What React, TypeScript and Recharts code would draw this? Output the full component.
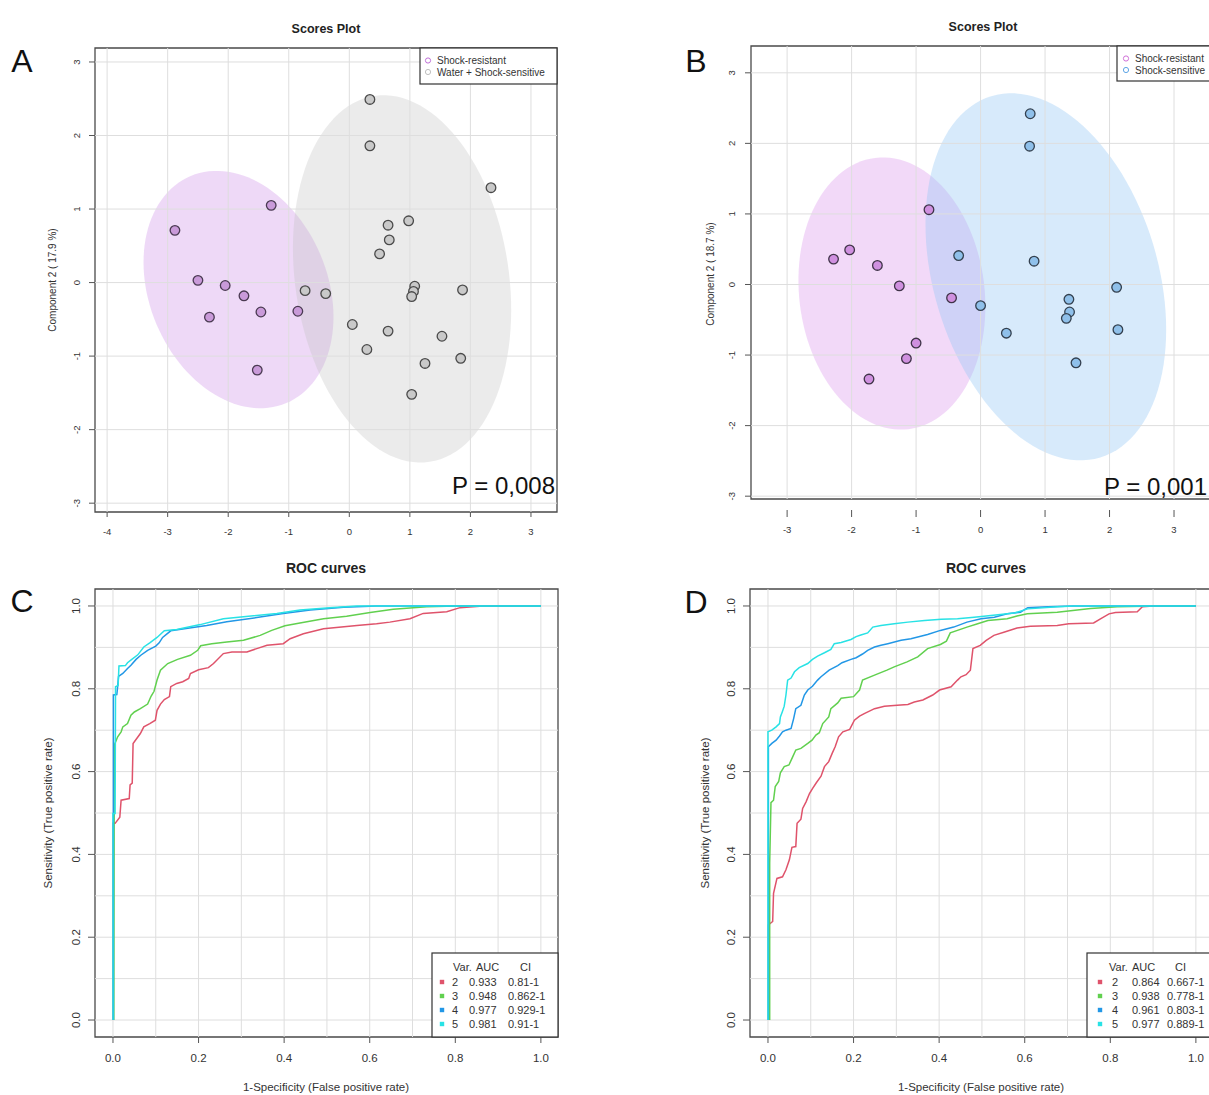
import React from 'react';
import {
  ScatterChart,
  Scatter,
  LineChart,
  Line,
  XAxis,
  YAxis,
  ReferenceArea,
  ReferenceLine,
} from 'recharts';

// ---------------- DATA ----------------
// Panel A – PLS-DA scores (Component 1, Component 2)
const scoresA_resistant: [number, number][] = [
  [-2.88, 0.71], [-1.29, 1.05], [-2.5, 0.03], [-2.05, -0.04], [-1.74, -0.18],
  [-2.31, -0.47], [-1.46, -0.4], [-0.85, -0.39], [-1.52, -1.19],
];
const scoresA_waterSensitive: [number, number][] = [
  [0.34, 2.49], [0.34, 1.86], [2.34, 1.29], [0.98, 0.84], [0.64, 0.78], [0.66, 0.58],
  [0.5, 0.39], [-0.73, -0.11], [-0.39, -0.15], [1.08, -0.05], [1.06, -0.12], [1.03, -0.19],
  [1.87, -0.1], [0.05, -0.57], [0.64, -0.66], [0.29, -0.91], [1.53, -0.73], [1.25, -1.1],
  [1.84, -1.03], [1.03, -1.52],
];
// Panel B
const scoresB_resistant: [number, number][] = [
  [-2.28, 0.36], [-2.03, 0.49], [-1.6, 0.27], [-1.26, -0.02], [-0.8, 1.06],
  [-0.45, -0.19], [-1.0, -0.83], [-1.15, -1.05], [-1.73, -1.34],
];
const scoresB_sensitive: [number, number][] = [
  [0.77, 2.42], [0.76, 1.96], [-0.34, 0.41], [0.83, 0.33], [2.11, -0.04], [0.0, -0.3],
  [1.37, -0.21], [1.38, -0.39], [1.33, -0.48], [2.13, -0.64], [0.4, -0.69], [1.48, -1.11],
];

// 95% confidence ellipses: centre + two conjugate semi-diameters (data units)
type Ell = { cx: number; cy: number; ux: number; uy: number; vx: number; vy: number };
const ellipseA_resistant: Ell = { cx: -1.83, cy: -0.095, ux: 0.79, uy: -1.544, vx: 1.355, vy: 0.471 };
const ellipseA_waterSensitive: Ell = { cx: 0.871, cy: 0.05, ux: 0.456, uy: -2.488, vx: 1.744, vy: 0.217 };
const ellipseB_resistant: Ell = { cx: -1.375, cy: -0.128, ux: 0.26, uy: -1.922, vx: 1.426, vy: 0.162 };
const ellipseB_sensitive: Ell = { cx: 1.012, cy: 0.109, ux: 0.845, uy: -2.56, vx: 1.664, vy: 0.461 };

const ticksA_x = [-4, -3, -2, -1, 0, 1, 2, 3];
const ticksA_y = [-3, -2, -1, 0, 1, 2, 3];
const ticksB_x = [-3, -2, -1, 0, 1, 2, 3];
const ticksB_y = [-3, -2, -1, 0, 1, 2, 3];

// ROC curves (false positive rate, true positive rate)
const rocC_var2: [number, number][] = [
  [0, 0], [0, 0.475], [0.005, 0.475], [0.016, 0.49], [0.019, 0.531], [0.038, 0.535], [0.04, 0.568],
  [0.045, 0.572], [0.047, 0.668], [0.064, 0.692], [0.072, 0.708], [0.086, 0.716], [0.099, 0.724],
  [0.103, 0.748], [0.111, 0.763], [0.12, 0.774], [0.132, 0.781], [0.135, 0.805], [0.149, 0.813],
  [0.163, 0.817], [0.177, 0.825], [0.181, 0.837], [0.2, 0.846], [0.223, 0.851], [0.235, 0.861],
  [0.258, 0.885], [0.278, 0.889], [0.313, 0.889], [0.336, 0.897], [0.36, 0.905], [0.398, 0.909],
  [0.414, 0.921], [0.445, 0.933], [0.492, 0.945], [0.57, 0.953], [0.616, 0.957], [0.647, 0.961],
  [0.694, 0.969], [0.725, 0.982], [0.78, 0.986], [0.811, 0.996], [0.865, 1.0], [1, 1],
];
const rocC_var3: [number, number][] = [
  [0.002, 0], [0.003, 0.664], [0.011, 0.684], [0.019, 0.696], [0.023, 0.708], [0.034, 0.716],
  [0.042, 0.736], [0.05, 0.744], [0.064, 0.752], [0.081, 0.763], [0.089, 0.782], [0.096, 0.794],
  [0.103, 0.821], [0.111, 0.845], [0.128, 0.861], [0.151, 0.871], [0.181, 0.881], [0.198, 0.893],
  [0.205, 0.904], [0.231, 0.909], [0.266, 0.913], [0.305, 0.917], [0.344, 0.929], [0.371, 0.941],
  [0.402, 0.952], [0.437, 0.959], [0.492, 0.969], [0.546, 0.975], [0.601, 0.984], [0.655, 0.992],
  [0.733, 0.998], [0.803, 1.0], [1, 1],
];
const rocC_var4: [number, number][] = [
  [0.001, 0], [0.001, 0.785], [0.009, 0.786], [0.011, 0.806], [0.013, 0.83], [0.023, 0.837],
  [0.034, 0.849], [0.042, 0.857], [0.054, 0.871], [0.065, 0.881], [0.081, 0.893], [0.1, 0.903],
  [0.108, 0.911], [0.116, 0.924], [0.135, 0.94], [0.167, 0.945], [0.219, 0.953], [0.266, 0.962],
  [0.336, 0.972], [0.398, 0.982], [0.461, 0.99], [0.539, 0.997], [0.616, 1.0], [1, 1],
];
const rocC_var5: [number, number][] = [
  [0, 0], [0, 0.499], [0.005, 0.499], [0.006, 0.805], [0.012, 0.808], [0.014, 0.855], [0.029, 0.856],
  [0.034, 0.863], [0.044, 0.871], [0.058, 0.882], [0.072, 0.901], [0.086, 0.911], [0.103, 0.924],
  [0.12, 0.94], [0.149, 0.943], [0.204, 0.955], [0.258, 0.969], [0.305, 0.974], [0.383, 0.982],
  [0.437, 0.99], [0.507, 0.996], [0.57, 1.0], [1, 1],
];
const rocD_var2: [number, number][] = [
  [0.001, 0], [0.001, 0.23], [0.011, 0.238], [0.013, 0.306], [0.021, 0.342], [0.034, 0.346],
  [0.042, 0.363], [0.05, 0.387], [0.056, 0.417], [0.065, 0.419], [0.068, 0.475], [0.077, 0.485],
  [0.081, 0.511], [0.089, 0.527], [0.097, 0.547], [0.104, 0.559], [0.113, 0.573], [0.124, 0.589],
  [0.132, 0.612], [0.142, 0.624], [0.15, 0.644], [0.157, 0.66], [0.165, 0.684], [0.175, 0.696],
  [0.191, 0.702], [0.202, 0.724], [0.214, 0.734], [0.225, 0.74], [0.249, 0.752], [0.272, 0.758],
  [0.302, 0.76], [0.327, 0.762], [0.342, 0.768], [0.362, 0.773], [0.385, 0.785], [0.401, 0.797],
  [0.428, 0.805], [0.443, 0.821], [0.451, 0.829], [0.463, 0.834], [0.473, 0.845], [0.479, 0.897],
  [0.496, 0.905], [0.51, 0.917], [0.528, 0.929], [0.553, 0.937], [0.582, 0.947], [0.613, 0.951],
  [0.676, 0.953], [0.703, 0.957], [0.761, 0.959], [0.777, 0.969], [0.797, 0.981], [0.812, 0.984],
  [0.863, 0.986], [0.875, 0.998], [0.9, 1.0], [1, 1],
];
const rocD_var3: [number, number][] = [
  [0.004, 0], [0.004, 0.379], [0.007, 0.525], [0.013, 0.531], [0.017, 0.564], [0.025, 0.576],
  [0.029, 0.597], [0.038, 0.612], [0.049, 0.616], [0.058, 0.636], [0.065, 0.652], [0.077, 0.656],
  [0.093, 0.668], [0.103, 0.676], [0.112, 0.688], [0.12, 0.694], [0.128, 0.716], [0.142, 0.732],
  [0.147, 0.752], [0.163, 0.766], [0.171, 0.777], [0.2, 0.781], [0.214, 0.797], [0.221, 0.821],
  [0.249, 0.833], [0.278, 0.845], [0.295, 0.853], [0.325, 0.865], [0.35, 0.877], [0.373, 0.897],
  [0.403, 0.907], [0.417, 0.915], [0.426, 0.935], [0.465, 0.949], [0.49, 0.957], [0.514, 0.965],
  [0.559, 0.969], [0.582, 0.976], [0.606, 0.981], [0.676, 0.985], [0.754, 0.994], [0.816, 0.998],
  [0.91, 1.0], [1, 1],
];
const rocD_var4: [number, number][] = [
  [0.001, 0], [0.001, 0.66], [0.009, 0.668], [0.019, 0.676], [0.027, 0.686], [0.034, 0.696],
  [0.042, 0.7], [0.054, 0.704], [0.06, 0.728], [0.065, 0.752], [0.077, 0.76], [0.085, 0.785],
  [0.093, 0.797], [0.104, 0.806], [0.116, 0.821], [0.124, 0.829], [0.143, 0.845], [0.163, 0.856],
  [0.173, 0.863], [0.194, 0.871], [0.206, 0.875], [0.221, 0.884], [0.233, 0.893], [0.249, 0.901],
  [0.264, 0.905], [0.28, 0.909], [0.311, 0.917], [0.334, 0.921], [0.373, 0.931], [0.403, 0.941],
  [0.434, 0.949], [0.465, 0.961], [0.498, 0.969], [0.529, 0.973], [0.559, 0.981], [0.59, 0.985],
  [0.607, 0.996], [0.654, 0.998], [0.715, 1.0], [1, 1],
];
const rocD_var5: [number, number][] = [
  [0, 0], [0, 0.696], [0.009, 0.7], [0.019, 0.708], [0.027, 0.716], [0.029, 0.732], [0.034, 0.746],
  [0.038, 0.758], [0.042, 0.785], [0.046, 0.821], [0.054, 0.826], [0.062, 0.841], [0.073, 0.851],
  [0.093, 0.861], [0.104, 0.871], [0.116, 0.879], [0.132, 0.887], [0.147, 0.895], [0.155, 0.909],
  [0.171, 0.912], [0.194, 0.919], [0.206, 0.926], [0.217, 0.93], [0.233, 0.935], [0.245, 0.949],
  [0.264, 0.953], [0.295, 0.957], [0.327, 0.961], [0.366, 0.965], [0.405, 0.968], [0.443, 0.969],
  [0.482, 0.973], [0.521, 0.977], [0.576, 0.983], [0.607, 0.993], [0.677, 0.998], [0.716, 1.0],
  [1, 1],
];

const rocTicks = [0, 0.2, 0.4, 0.6, 0.8, 1.0];
const rocGrid = [0, 0.1, 0.2, 0.3, 0.4, 0.5, 0.6, 0.7, 0.8, 0.9, 1.0];
const rocVars = ['2', '3', '4', '5'];
const rocColors = ['#DF536B', '#61D04F', '#2297E6', '#28E2E5'];
const rocC_auc = ['0.933', '0.948', '0.977', '0.981'];
const rocC_ci = ['0.81-1', '0.862-1', '0.929-1', '0.91-1'];
const rocD_auc = ['0.864', '0.938', '0.961', '0.977'];
const rocD_ci = ['0.667-1', '0.778-1', '0.803-1', '0.889-1'];

// ---------------- HELPERS ----------------
const FONT = '"Liberation Sans", Arial, Helvetica, sans-serif';
const GRID = '#dedede';
const FRAME = '#4a4a4a';

const toXY = (arr: [number, number][]) => arr.map(([x, y]) => ({ x, y }));

function XTick(props: any) {
  const { x, y, payload, gap, len, dy, fs, fmt } = props;
  const label = fmt ? fmt(payload.value) : String(payload.value);
  return (
    <g>
      <line x1={x} x2={x} y1={y + gap} y2={y + gap + len} stroke="#555" strokeWidth={1} />
      <text x={x} y={y + dy} textAnchor="middle" fontSize={fs} fill="#333" fontFamily={FONT}>
        {label}
      </text>
    </g>
  );
}

function YTick(props: any) {
  const { x, y, payload, len, off, fs, fmt } = props;
  const label = fmt ? fmt(payload.value) : String(payload.value);
  const tx = x - off;
  return (
    <g>
      <line x1={x - len} x2={x} y1={y} y2={y} stroke="#555" strokeWidth={1} />
      <text
        x={tx}
        y={y}
        transform={`rotate(-90 ${tx} ${y})`}
        textAnchor="middle"
        fontSize={fs}
        fill="#333"
        fontFamily={FONT}
      >
        {label}
      </text>
    </g>
  );
}

function EllipseShape(props: any) {
  const { x, y, width, height, e, color, opacity } = props;
  const hx = Math.hypot(e.ux, e.vx);
  const hy = Math.hypot(e.uy, e.vy);
  const kx = width / (2 * hx);
  const ky = height / (2 * hy);
  const pcx = x + width / 2;
  const pcy = y + height / 2;
  let d = '';
  const n = 120;
  for (let i = 0; i <= n; i++) {
    const t = (i / n) * 2 * Math.PI;
    const dx = Math.cos(t) * e.ux + Math.sin(t) * e.vx;
    const dyv = Math.cos(t) * e.uy + Math.sin(t) * e.vy;
    d += (i ? 'L' : 'M') + (pcx + dx * kx).toFixed(2) + ',' + (pcy - dyv * ky).toFixed(2);
  }
  return <path d={d + 'Z'} fill={color} fillOpacity={opacity} stroke="none" />;
}

function ellipseArea(key: string, e: Ell, color: string, opacity: number) {
  const hx = Math.hypot(e.ux, e.vx);
  const hy = Math.hypot(e.uy, e.vy);
  return (
    <ReferenceArea
      key={key}
      x1={e.cx - hx}
      x2={e.cx + hx}
      y1={e.cy - hy}
      y2={e.cy + hy}
      ifOverflow="visible"
      shape={(p: any) => <EllipseShape {...p} e={e} color={color} opacity={opacity} />}
    />
  );
}

type Group = { key: string; data: [number, number][]; fill: string; stroke: string };

function ScoresChart(props: {
  width: number;
  height: number;
  margin: { top: number; right: number; bottom: number; left: number };
  yAxisWidth: number;
  xDomain: [number, number];
  yDomain: [number, number];
  xTicks: number[];
  yTicks: number[];
  ellipses: { key: string; e: Ell; color: string; opacity: number }[];
  groups: Group[];
  xTickCfg: { gap: number; len: number; dy: number; fs: number };
  yTickCfg: { len: number; off: number; fs: number };
}) {
  const p = props;
  return (
    <ScatterChart width={p.width} height={p.height} margin={p.margin}>
      <XAxis
        type="number"
        dataKey="x"
        domain={p.xDomain}
        ticks={p.xTicks}
        interval={0}
        allowDataOverflow
        axisLine={false}
        tickLine={false}
        tickSize={0}
        tickMargin={0}
        height={40}
        tick={(t: any) => <XTick {...t} {...p.xTickCfg} />}
      />
      <YAxis
        type="number"
        dataKey="y"
        domain={p.yDomain}
        ticks={p.yTicks}
        interval={0}
        allowDataOverflow
        axisLine={false}
        tickLine={false}
        tickSize={0}
        tickMargin={0}
        width={p.yAxisWidth}
        tick={(t: any) => <YTick {...t} {...p.yTickCfg} />}
      />
      {p.xTicks.map((v) => (
        <ReferenceLine key={'gx' + v} x={v} stroke={GRID} strokeWidth={1} />
      ))}
      {p.yTicks.map((v) => (
        <ReferenceLine key={'gy' + v} y={v} stroke={GRID} strokeWidth={1} />
      ))}
      {p.ellipses.map((el) => ellipseArea(el.key, el.e, el.color, el.opacity))}
      {p.groups.map((g) => (
        <Scatter
          key={g.key}
          data={toXY(g.data)}
          isAnimationActive={false}
          shape={(s: any) => (
            <circle cx={s.cx} cy={s.cy} r={4.8} fill={g.fill} stroke={g.stroke} strokeWidth={1.3} />
          )}
        />
      ))}
      <ReferenceArea
        x1={p.xDomain[0]}
        x2={p.xDomain[1]}
        y1={p.yDomain[0]}
        y2={p.yDomain[1]}
        ifOverflow="visible"
        fill="none"
        fillOpacity={0}
        stroke={FRAME}
        strokeWidth={1.3}
      />
    </ScatterChart>
  );
}

function RocChart(props: { series: [number, number][][] }) {
  const xDomain: [number, number] = [-0.042, 1.04];
  const yDomain: [number, number] = [-0.041, 1.041];
  const fmt = (v: number) => v.toFixed(1);
  return (
    <LineChart width={600} height={555} margin={{ top: 49, right: 42, bottom: 3, left: 30 }}>
      <XAxis
        type="number"
        dataKey="x"
        domain={xDomain}
        ticks={rocTicks}
        interval={0}
        allowDataOverflow
        axisLine={false}
        tickLine={false}
        tickSize={0}
        tickMargin={0}
        height={55}
        tick={(t: any) => <XTick {...t} gap={0} len={6} dy={25} fs={11.5} fmt={fmt} />}
      />
      <YAxis
        type="number"
        domain={yDomain}
        ticks={rocTicks}
        interval={0}
        allowDataOverflow
        axisLine={false}
        tickLine={false}
        tickSize={0}
        tickMargin={0}
        width={65}
        tick={(t: any) => <YTick {...t} len={7} off={15} fs={11.5} fmt={fmt} />}
      />
      {rocGrid.map((v) => (
        <ReferenceLine key={'gx' + v} x={v} stroke={GRID} strokeWidth={1} />
      ))}
      {rocGrid.map((v) => (
        <ReferenceLine key={'gy' + v} y={v} stroke={GRID} strokeWidth={1} />
      ))}
      {props.series.map((s, i) => (
        <Line
          key={'roc' + i}
          data={toXY(s)}
          dataKey="y"
          type="linear"
          stroke={rocColors[i]}
          strokeWidth={1.5}
          dot={false}
          activeDot={false}
          isAnimationActive={false}
        />
      ))}
      <ReferenceArea
        x1={xDomain[0]}
        x2={xDomain[1]}
        y1={yDomain[0]}
        y2={yDomain[1]}
        ifOverflow="visible"
        fill="none"
        fillOpacity={0}
        stroke={FRAME}
        strokeWidth={1.3}
      />
    </LineChart>
  );
}

function RocLegend(props: {
  x: number;
  y: number;
  w: number;
  h: number;
  auc: string[];
  ci: string[];
  off: { mk: number; num: number; auc: number; ci: number; hVar: number; hAuc: number; hCi: number };
}) {
  const { x, y, w, h, auc, ci, off } = props;
  const rowY = [y + 29, y + 43, y + 57, y + 71];
  return (
    <g fontFamily={FONT} fontSize={11} fill="#333">
      <rect x={x} y={y} width={w} height={h} fill="#fff" stroke="#333" strokeWidth={1.2} />
      <text x={x + off.hVar} y={y + 14} dominantBaseline="central">Var.</text>
      <text x={x + off.hAuc} y={y + 14} dominantBaseline="central">AUC</text>
      <text x={x + off.hCi} y={y + 14} dominantBaseline="central">CI</text>
      {rocVars.map((v, i) => (
        <g key={v}>
          <rect x={x + off.mk - 2.2} y={rowY[i] - 2.2} width={4.4} height={4.4} fill={rocColors[i]} />
          <text x={x + off.num} y={rowY[i]} dominantBaseline="central">{v}</text>
          <text x={x + off.auc} y={rowY[i]} dominantBaseline="central">{auc[i]}</text>
          <text x={x + off.ci} y={rowY[i]} dominantBaseline="central">{ci[i]}</text>
        </g>
      ))}
    </g>
  );
}

export default function App() {
  const abs = (left: number, top: number): React.CSSProperties => ({ position: 'absolute', left, top });
  return (
    <div
      style={{
        position: 'fixed',
        left: 0,
        top: 0,
        width: 1209,
        height: 1095,
        overflow: 'hidden',
        background: '#fff',
        fontFamily: FONT,
      }}
    >
      {/* Panel A */}
      <div style={abs(0, 0)}>
        <ScoresChart
          width={600}
          height={560}
          margin={{ top: 48, right: 43, bottom: 8, left: 30 }}
          yAxisWidth={65}
          xDomain={[-4.2, 3.43]}
          yDomain={[-3.12, 3.19]}
          xTicks={ticksA_x}
          yTicks={ticksA_y}
          ellipses={[
            { key: 'ea1', e: ellipseA_resistant, color: 'rgb(215,165,235)', opacity: 0.42 },
            { key: 'ea2', e: ellipseA_waterSensitive, color: 'rgb(195,195,195)', opacity: 0.33 },
          ]}
          groups={[
            { key: 'ga1', data: scoresA_resistant, fill: '#c99ad9', stroke: '#4a3a52' },
            { key: 'ga2', data: scoresA_waterSensitive, fill: '#c9c9c9', stroke: '#4a4a4a' },
          ]}
          xTickCfg={{ gap: 0, len: 5, dy: 23, fs: 9.5 }}
          yTickCfg={{ len: 6, off: 14.5, fs: 9.5 }}
        />
      </div>

      {/* Panel B */}
      <div style={abs(660, 0)}>
        <ScoresChart
          width={600}
          height={560}
          margin={{ top: 46, right: 46, bottom: 21, left: 30 }}
          yAxisWidth={61}
          xDomain={[-3.56, 3.62]}
          yDomain={[-3.04, 3.38]}
          xTicks={ticksB_x}
          yTicks={ticksB_y}
          ellipses={[
            { key: 'eb1', e: ellipseB_resistant, color: 'rgb(225,165,238)', opacity: 0.42 },
            { key: 'eb2', e: ellipseB_sensitive, color: 'rgb(150,200,245)', opacity: 0.38 },
          ]}
          groups={[
            { key: 'gb1', data: scoresB_resistant, fill: '#cf90df', stroke: '#3f3348' },
            { key: 'gb2', data: scoresB_sensitive, fill: '#8fc0ea', stroke: '#33404f' },
          ]}
          xTickCfg={{ gap: 11, len: 7, dy: 34, fs: 9.5 }}
          yTickCfg={{ len: 6, off: 16, fs: 9.5 }}
        />
      </div>

      {/* Panel C */}
      <div style={abs(0, 540)}>
        <RocChart series={[rocC_var2, rocC_var3, rocC_var4, rocC_var5]} />
      </div>

      {/* Panel D */}
      <div style={abs(655, 540)}>
        <RocChart series={[rocD_var2, rocD_var3, rocD_var4, rocD_var5]} />
      </div>

      {/* Overlay texts & legends */}
      <svg
        width={1209}
        height={1095}
        style={{ position: 'absolute', left: 0, top: 0, pointerEvents: 'none' }}
        fontFamily={FONT}
      >
        {/* panel letters */}
        <text x={22} y={61} fontSize={32} textAnchor="middle" dominantBaseline="central" fill="#111">A</text>
        <text x={696} y={61} fontSize={32} textAnchor="middle" dominantBaseline="central" fill="#111">B</text>
        <text x={22} y={601} fontSize={32} textAnchor="middle" dominantBaseline="central" fill="#111">C</text>
        <text x={696} y={602} fontSize={32} textAnchor="middle" dominantBaseline="central" fill="#111">D</text>

        {/* titles */}
        <text x={326} y={29} fontSize={12.5} fontWeight="bold" textAnchor="middle" dominantBaseline="central" fill="#222">Scores Plot</text>
        <text x={983} y={27} fontSize={12.5} fontWeight="bold" textAnchor="middle" dominantBaseline="central" fill="#222">Scores Plot</text>
        <text x={326} y={568} fontSize={14} fontWeight="bold" textAnchor="middle" dominantBaseline="central" fill="#222">ROC curves</text>
        <text x={986} y={568} fontSize={14} fontWeight="bold" textAnchor="middle" dominantBaseline="central" fill="#222">ROC curves</text>

        {/* axis labels */}
        <text x={52} y={280} fontSize={10} textAnchor="middle" dominantBaseline="central" fill="#333" transform="rotate(-90 52 280)">Component 2 ( 17.9 %)</text>
        <text x={710} y={274} fontSize={10} textAnchor="middle" dominantBaseline="central" fill="#333" transform="rotate(-90 710 274)">Component 2 ( 18.7 %)</text>
        <text x={48} y={813} fontSize={11.5} textAnchor="middle" dominantBaseline="central" fill="#333" transform="rotate(-90 48 813)">Sensitivity (True positive rate)</text>
        <text x={705} y={813} fontSize={11.5} textAnchor="middle" dominantBaseline="central" fill="#333" transform="rotate(-90 705 813)">Sensitivity (True positive rate)</text>
        <text x={326} y={1087} fontSize={11.5} textAnchor="middle" dominantBaseline="central" fill="#333">1-Specificity (False positive rate)</text>
        <text x={981} y={1087} fontSize={11.5} textAnchor="middle" dominantBaseline="central" fill="#333">1-Specificity (False positive rate)</text>

        {/* P values */}
        <text x={555} y={494} fontSize={24} textAnchor="end" fill="#111">P = 0,008</text>
        <text x={1207} y={495} fontSize={24} textAnchor="end" fill="#111">P = 0,001</text>

        {/* scores legends */}
        <g fontSize={10} fill="#333">
          <rect x={420} y={48} width={137} height={36} fill="#fff" stroke="#333" strokeWidth={1.2} />
          <circle cx={428} cy={60.5} r={2.6} fill="none" stroke="#c070d8" strokeWidth={1} />
          <circle cx={428} cy={72} r={2.6} fill="none" stroke="#c0c0c0" strokeWidth={1} />
          <text x={437} y={60.5} dominantBaseline="central">Shock-resistant</text>
          <text x={437} y={72} dominantBaseline="central">Water + Shock-sensitive</text>

          <rect x={1117} y={46} width={130} height={35} fill="#fff" stroke="#333" strokeWidth={1.2} />
          <circle cx={1126} cy={58.5} r={2.6} fill="none" stroke="#d070d8" strokeWidth={1} />
          <circle cx={1126} cy={70} r={2.6} fill="none" stroke="#5fa6e6" strokeWidth={1} />
          <text x={1135} y={58.5} dominantBaseline="central">Shock-resistant</text>
          <text x={1135} y={70} dominantBaseline="central">Shock-sensitive</text>
        </g>

        {/* ROC legends */}
        <RocLegend
          x={432}
          y={953}
          w={126}
          h={84}
          auc={rocC_auc}
          ci={rocC_ci}
          off={{ mk: 10, num: 20, auc: 37, ci: 76, hVar: 21, hAuc: 44, hCi: 88 }}
        />
        <RocLegend
          x={1087}
          y={953}
          w={130}
          h={84}
          auc={rocD_auc}
          ci={rocD_ci}
          off={{ mk: 13, num: 25, auc: 45, ci: 80, hVar: 22, hAuc: 45, hCi: 88 }}
        />
      </svg>
    </div>
  );
}
